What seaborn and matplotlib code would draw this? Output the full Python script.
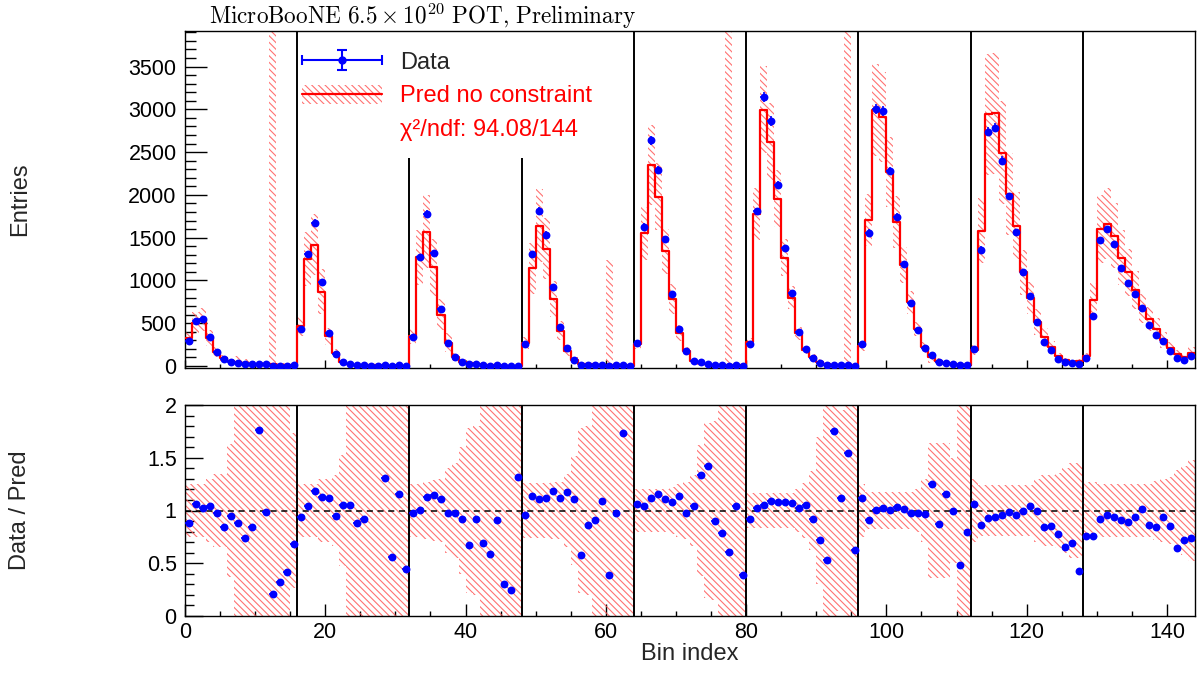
import numpy as np
import pandas as pd
import matplotlib
matplotlib.use("Agg")
import matplotlib.pyplot as plt
import seaborn as sns
from matplotlib.patches import Patch, Rectangle
from matplotlib.lines import Line2D
from matplotlib.legend_handler import HandlerTuple, HandlerErrorbar
from matplotlib.container import ErrorbarContainer
from matplotlib.ticker import MultipleLocator, FormatStrFormatter

# ---------------- data ----------------
pred_g1 = [327, 502, 540, 327, 163, 93, 54, 45, 35, 25, 15, 20, 25, 15, 12, 10]
ratio_g1 = [0.886, 1.06, 1.022, 1.044, 0.975, 0.84, 0.95, 0.88, 0.74, 0.845, 1.765, 0.99, 0.213, 0.324, 0.42, 0.678]
err_g1 = [0.25, 0.25, 0.25, 0.3, 0.35, 0.35, 0.63, 1.5, 1.5, 1.5, 1.5, 1.5, 200, 1.5, 1.5, 0.73]

pred_g2 = [463, 1250, 1417, 871, 346, 150, 45, 20, 15, 12, 10, 8, 8, 6, 6, 5]
ratio_g2 = [0.94, 1.044, 1.183, 1.13, 1.12, 0.946, 1.05, 1.05, 0.886, 0.92, 0, 0, 1.31, 0.555, 1.158, 0.447]
err_g2 = [0.25, 0.25, 0.25, 0.3, 0.3, 0.34, 0.53, 1.5, 1.5, 1.5, 1.5, 1.5, 1.5, 1.5, 1.5, 1.5]

pred_g3 = [347, 1270, 1572, 1152, 600, 274, 105, 52, 30, 22, 15, 10, 8, 6, 5, 4]
ratio_g3 = [0.978, 1.003, 1.13, 1.15, 1.11, 0.98, 0.978, 0.92, 0.675, 0.915, 0.694, 0.583, 0.908, 0.30, 0.25, 1.32]
err_g3 = [0.25, 0.25, 0.27, 0.29, 0.3, 0.4, 0.45, 0.6, 0.78, 0.8, 1.5, 1.5, 1.5, 1.5, 1.5, 1.5]

pred_g4 = [267, 1145, 1639, 1370, 783, 412, 180, 67, 26, 20, 15, 12, 10, 9, 8, 6]
ratio_g4 = [0.962, 1.142, 1.107, 1.12, 1.183, 1.12, 1.177, 1.107, 0.577, 0.858, 0.908, 1.092, 0.393, 0.978, 1.736, 0]
err_g4 = [0.26, 0.26, 0.26, 0.26, 0.27, 0.27, 0.35, 0.52, 0.78, 0.8, 1.5, 1.5, 123, 1.5, 1.5, 1.5]

pred_g5 = [252, 1553, 2351, 1981, 1339, 786, 385, 179, 59, 35, 18, 10, 10, 10, 8, 8]
ratio_g5 = [1.066, 1.047, 1.123, 1.158, 1.11, 1.076, 1.133, 0.972, 1.047, 1.335, 1.42, 0.902, 0.79, 0.605, 1.038, 0.39]
err_g5 = [0.2, 0.2, 0.2, 0.2, 0.2, 0.22, 0.25, 0.27, 0.34, 0.62, 0.83, 0.85, 1.5, 500, 1.5, 1.5]

pred_g6 = [279, 1775, 2994, 2623, 1954, 1268, 801, 385, 190, 100, 48, 20, 10, 10, 10, 8]
ratio_g6 = [0.921, 1.019, 1.05, 1.092, 1.082, 1.085, 1.073, 1.022, 1.05, 0.921, 0.722, 0.535, 1.758, 1.114, 1.543, 0.63]
err_g6 = [0.17, 0.17, 0.17, 0.17, 0.17, 0.17, 0.17, 0.2, 0.26, 0.37, 0.7, 1.5, 1.5, 0.95, 500, 1.5]

pred_g7 = [229, 1709, 2994, 2908, 2273, 1689, 1183, 748, 432, 218, 101, 55, 30, 20, 15, 12]
ratio_g7 = [1.114, 0.912, 1.003, 1.025, 1.003, 1.032, 1.01, 0.978, 0.972, 0.965, 1.253, 0.874, 1.152, 0.997, 0.479, 0.798]
err_g7 = [0.25, 0.18, 0.18, 0.18, 0.18, 0.18, 0.18, 0.18, 0.2, 0.3, 0.64, 0.64, 0.64, 0.5, 1.5, 1.5]

pred_g8 = [191, 1580, 2943, 2955, 2495, 2009, 1639, 1098, 794, 514, 334, 218, 112, 65, 52, 60]
ratio_g8 = [1.057, 0.861, 0.93, 0.943, 0.962, 0.987, 0.956, 0.997, 1.038, 0.997, 0.845, 0.852, 0.776, 0.652, 0.694, 0.425]
err_g8 = [0.3, 0.24, 0.24, 0.24, 0.24, 0.24, 0.24, 0.24, 0.24, 0.3, 0.34, 0.34, 0.36, 0.4, 0.45, 0.45]

pred_g9 = [118, 766, 1600, 1662, 1522, 1268, 1098, 891, 669, 549, 436, 307, 210, 140, 101, 152]
ratio_g9 = [0.763, 0.763, 0.921, 0.962, 0.934, 0.908, 0.889, 0.94, 1.013, 0.864, 0.839, 0.94, 0.852, 0.646, 0.722, 0.738]
err_g9 = [0.27, 0.27, 0.25, 0.25, 0.25, 0.25, 0.25, 0.25, 0.25, 0.25, 0.28, 0.3, 0.32, 0.38, 0.42, 0.48]

group_boundaries = [16, 32, 48, 64, 80, 96, 112, 128]
separator_tops = [5000, 2430, 2430, 5000, 5000, 5000, 5000, 5000]

title_text = r"$\mathrm{MicroBooNE\ 6.5\times10^{20}\ POT{,}\ Preliminary}$"
legend_labels = ["Data", "Pred no constraint", "\u03c7\u00b2/ndf: 94.08/144"]

# ---------------- assemble ----------------
pred = np.array(pred_g1 + pred_g2 + pred_g3 + pred_g4 + pred_g5 + pred_g6 + pred_g7 + pred_g8 + pred_g9, float)
ratio = np.array(ratio_g1 + ratio_g2 + ratio_g3 + ratio_g4 + ratio_g5 + ratio_g6 + ratio_g7 + ratio_g8 + ratio_g9, float)
rel_err = np.array(err_g1 + err_g2 + err_g3 + err_g4 + err_g5 + err_g6 + err_g7 + err_g8 + err_g9, float)
data = pred * ratio

nbins = len(pred)
edges = np.arange(nbins + 1)
centers = edges[:-1] + 0.5

# ---------------- style ----------------
sns.set_theme(style="ticks")
plt.rcParams["font.family"] = ["Liberation Sans", "DejaVu Sans"]
plt.rcParams["hatch.linewidth"] = 0.8

W, H = 1197, 673
fig = plt.figure(figsize=(W / 100, H / 100), dpi=100)
ax1 = fig.add_axes([185 / W, 1 - 368 / H, 1010 / W, 337 / H])
ax2 = fig.add_axes([185 / W, 1 - 616 / H, 1010 / W, 211 / H])

HATCH = "\\\\\\\\\\"
hatch_col = (1.0, 0.35, 0.35, 0.85)

def ext(a):
    return np.append(a, a[-1])

# ---- top panel ----
band_hi = pred * (1 + rel_err)
band_lo = np.clip(pred * (1 - rel_err), 0, None)
ax1.fill_between(edges, ext(band_lo), ext(band_hi), step="post", facecolor="none",
                 edgecolor=hatch_col, linewidth=0, hatch=HATCH, zorder=1)

step_df = pd.DataFrame({"x": edges, "y": ext(pred)})
sns.lineplot(data=step_df, x="x", y="y", ax=ax1, drawstyle="steps-post", color="red",
             linewidth=1.6, sort=False, estimator=None, zorder=3)

ax1.vlines(group_boundaries, 0, separator_tops, colors="black", linewidth=1.4, zorder=2)

ax1.errorbar(centers, data, xerr=0.5, yerr=np.sqrt(data), fmt="none", ecolor="blue",
             elinewidth=1.2, zorder=4)
sns.scatterplot(x=centers, y=data, ax=ax1, color="blue", s=32, linewidth=0, zorder=5)

# ---- bottom panel ----
ax2.fill_between(edges, ext(1 - rel_err), ext(1 + rel_err), step="post", facecolor="none",
                 edgecolor=hatch_col, linewidth=0, hatch=HATCH, zorder=1)
ax2.axhline(1.0, color="black", linestyle=(0, (4, 3)), linewidth=1.1, zorder=2)
ax2.vlines(group_boundaries, 0, 2, colors="black", linewidth=1.4, zorder=2)
mask = ratio > 0
ax2.errorbar(centers[mask], ratio[mask], xerr=0.5, fmt="none", ecolor="blue",
             elinewidth=1.2, zorder=4)
sns.scatterplot(x=centers[mask], y=ratio[mask], ax=ax2, color="blue", s=32, linewidth=0, zorder=5)

# ---- axes ----
for ax in (ax1, ax2):
    ax.set_xlim(0, nbins)
    ax.xaxis.set_major_locator(MultipleLocator(20))
    ax.xaxis.set_minor_locator(MultipleLocator(5))
    ax.tick_params(which="both", direction="in", top=False, right=False,
                   colors="black", width=1.0, labelsize=15.5, pad=6)
    for sp in ax.spines.values():
        sp.set_visible(True)
        sp.set_color("black")
        sp.set_linewidth(1.0)
    ax.set_xlabel("")
    ax.set_ylabel("")

ax1.set_ylim(-23, 3916)
ax1.yaxis.set_major_locator(MultipleLocator(500))
ax1.yaxis.set_minor_locator(MultipleLocator(100))
ax1.tick_params(axis="y", which="major", length=16)
ax1.tick_params(axis="y", which="minor", length=8)
ax1.tick_params(axis="x", which="major", length=5.5)
ax1.tick_params(axis="x", which="minor", length=2.8)
ax1.tick_params(axis="x", labelbottom=False)

ax2.set_ylim(0, 2)
ax2.yaxis.set_major_locator(MultipleLocator(0.5))
ax2.yaxis.set_minor_locator(MultipleLocator(0.1))
ax2.yaxis.set_major_formatter(FormatStrFormatter("%g"))
ax2.tick_params(axis="y", which="major", length=13)
ax2.tick_params(axis="y", which="minor", length=6.5)
ax2.tick_params(axis="x", which="major", length=8.6, pad=4)
ax2.tick_params(axis="x", which="minor", length=3.6)

ax1.set_ylabel("Entries", fontsize=17)
ax1.yaxis.set_label_coords(-0.152, 0.5)
ax2.set_ylabel("Data / Pred", fontsize=17)
ax2.yaxis.set_label_coords(-0.152, 0.5)
ax2.set_xlabel("Bin index", fontsize=17)
ax2.xaxis.set_label_coords(0.5, -0.128)

# ---- legend ----
dummy = ax1.errorbar([np.nan], [np.nan], xerr=[1], yerr=[1], fmt="o", color="blue",
                     markersize=5, capsize=3.5, elinewidth=1.5, capthick=1.5)
pred_patch = Patch(facecolor="none", edgecolor=hatch_col, hatch=HATCH, linewidth=0)
pred_line = Line2D([], [], color="red", linewidth=1.6)
blank = Rectangle((0, 0), 1, 1, fill=False, edgecolor="none", visible=False)
leg = ax1.legend([dummy, (pred_patch, pred_line), blank], legend_labels,
                 handler_map={tuple: HandlerTuple(ndivide=1, pad=0),
                              ErrorbarContainer: HandlerErrorbar(xerr_size=1.7, yerr_size=0.42)},
                 loc="upper left", bbox_to_anchor=(0.116, 0.94), frameon=False, fontsize=17,
                 handlelength=3.4, handleheight=0.9, handletextpad=0.75, labelspacing=0.44,
                 borderpad=0, borderaxespad=0)
leg.get_texts()[1].set_color("red")
leg.get_texts()[2].set_color("red")

# ---- title ----
fig.text(209 / W, 1 - 16 / H, title_text, math_fontfamily="cm", fontsize=16.7,
         ha="left", va="center", color="black")

fig.savefig("out.png", dpi=100)
